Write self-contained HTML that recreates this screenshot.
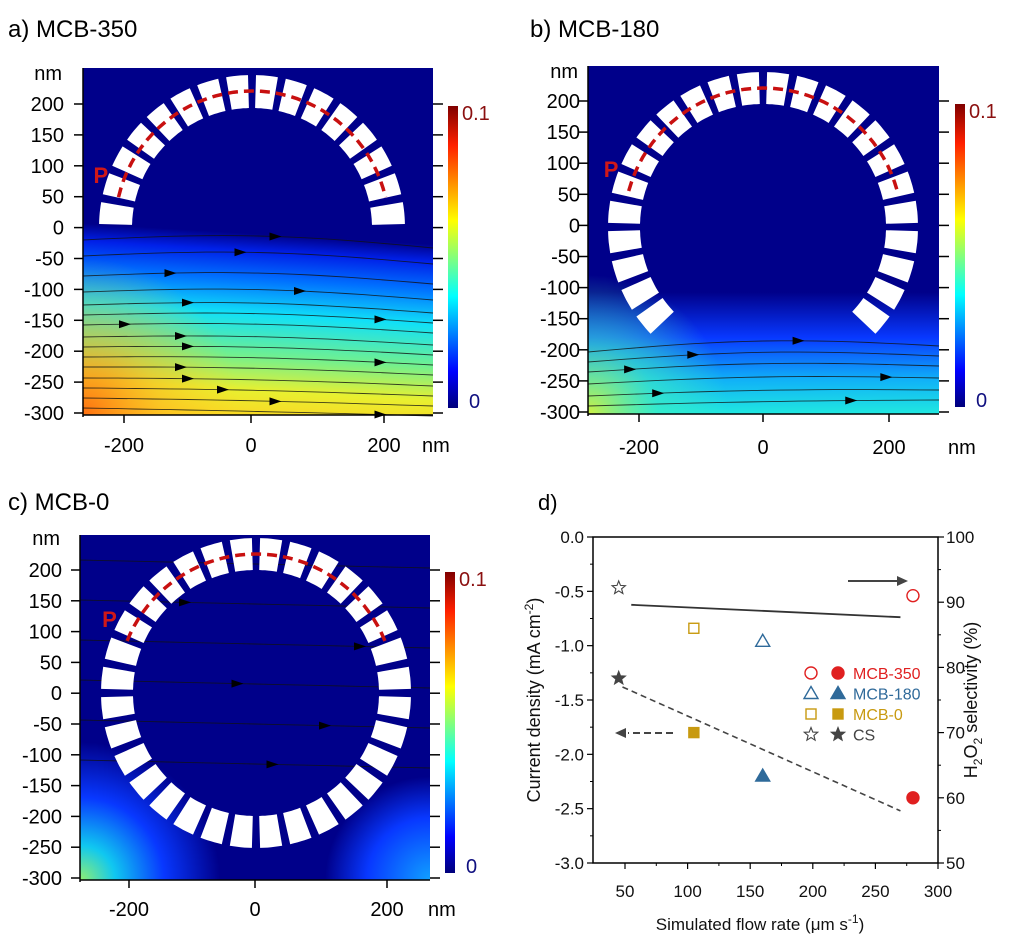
<!DOCTYPE html>
<html><head><meta charset="utf-8"><style>
html,body{margin:0;padding:0;background:#fff;}
svg{display:block;font-family:"Liberation Sans",Arial,sans-serif;}
</style></head><body>
<svg id="root" width="1017" height="943" viewBox="0 0 1017 943" xmlns="http://www.w3.org/2000/svg">
<defs>
<linearGradient id="jet" x1="0" y1="1" x2="0" y2="0">
<stop offset="0" stop-color="#00007a"/><stop offset="0.12" stop-color="#0000ff"/><stop offset="0.37" stop-color="#00ffff"/><stop offset="0.62" stop-color="#ffff00"/><stop offset="0.87" stop-color="#ff2000"/><stop offset="1" stop-color="#800000"/>
</linearGradient>
<linearGradient id="fa" x1="0.06" y1="0" x2="0" y2="1">
<stop offset="0" stop-color="#00008a"/><stop offset="0.45" stop-color="#00008a"/><stop offset="0.5" stop-color="#0020e8"/><stop offset="0.58" stop-color="#0070ff"/><stop offset="0.68" stop-color="#10e0f8"/><stop offset="0.8" stop-color="#70f090"/><stop offset="0.9" stop-color="#e8f030"/><stop offset="1" stop-color="#ffd020"/>
</linearGradient>
<radialGradient id="ra2" cx="0" cy="1" r="0.45">
<stop offset="0" stop-color="#ff7010"/><stop offset="0.5" stop-color="#ffb020" stop-opacity="0.5"/><stop offset="1" stop-color="#ffd020" stop-opacity="0"/>
</radialGradient>
<linearGradient id="fb" x1="0" y1="0" x2="0" y2="1">
<stop offset="0" stop-color="#00008a"/><stop offset="0.65" stop-color="#00008a"/><stop offset="0.78" stop-color="#0838ff"/><stop offset="0.9" stop-color="#10b0f8"/><stop offset="1" stop-color="#20e8e0"/>
</linearGradient>
<radialGradient id="rb" cx="0" cy="1" r="0.4">
<stop offset="0" stop-color="#d0f040"/><stop offset="0.5" stop-color="#40f0c0" stop-opacity="0.6"/><stop offset="1" stop-color="#40f0c0" stop-opacity="0"/>
</radialGradient>
<radialGradient id="rc" cx="0" cy="1" r="0.4">
<stop offset="0" stop-color="#90f070"/><stop offset="0.25" stop-color="#10c8f0"/><stop offset="0.6" stop-color="#0838ff"/><stop offset="1" stop-color="#0838ff" stop-opacity="0"/>
</radialGradient>
<radialGradient id="rc2" cx="1" cy="1" r="0.3">
<stop offset="0" stop-color="#10a0ff"/><stop offset="0.6" stop-color="#0838ff"/><stop offset="1" stop-color="#0838ff" stop-opacity="0"/>
</radialGradient>
</defs>

<text x="8" y="37" font-size="24">a)  MCB-350</text>
<text x="530" y="37" font-size="24">b) MCB-180</text>
<text x="8" y="510" font-size="24">c) MCB-0</text>
<text x="538" y="510" font-size="22">d)</text>

<g>
<rect x="83" y="68" width="350" height="347" fill="url(#fa)"/>
<rect x="83" y="68" width="350" height="347" fill="url(#ra2)"/>
<g id="sa"></g>
<g id="ra"></g>
</g>
<g>
<rect x="588" y="66" width="351" height="348" fill="url(#fb)"/>
<rect x="588" y="66" width="351" height="348" fill="url(#rb)"/>
<g id="sb"></g>
<g id="rbg"></g>
</g>
<g>
<rect x="80" y="535" width="350" height="345" fill="#00008a"/>
<rect x="80" y="535" width="350" height="345" fill="url(#rc)"/>
<rect x="80" y="535" width="350" height="345" fill="url(#rc2)"/>
<g id="sc"></g>
<g id="rcg"></g>
</g>
<g id="axes"></g>
<g id="pd"></g>
</svg>
<script>
// ---- Panel d data ----
const flowRates = [280, 160, 105, 45];
const seriesNames = ["MCB-350", "MCB-180", "MCB-0", "CS"];
const selectivity = [91, 84, 86, 92.2];
const currentDensity = [-2.4, -2.2, -1.8, -1.3];
const xTicks = [50, 100, 150, 200, 250, 300];
const yLeftTicks = ["0.0","-0.5","-1.0","-1.5","-2.0","-2.5","-3.0"];
const yRightTicks = [100, 90, 80, 70, 60, 50];
const solidTrendX = [55, 270];
const solidTrendY = [89.6, 87.7];
const dashTrendX = [48, 270];
const dashTrendY = [-1.38, -2.52];

const NS = "http://www.w3.org/2000/svg";
function mk(tag, attrs, parent){const e=document.createElementNS(NS,tag);for(const k in attrs)e.setAttribute(k,attrs[k]);parent.appendChild(e);return e;}

function ring(g, cx, cy, ro, ri, a0, a1, n, gap){
  const step=(a1-a0)/n;
  for(let i=0;i<n;i++){
    const s=(a0+i*step+gap/2)*Math.PI/180, e=(a0+(i+1)*step-gap/2)*Math.PI/180;
    const pts=[];
    for(let k=0;k<=6;k++){const t=s+(e-s)*k/6;pts.push((cx+ro*Math.cos(t)).toFixed(1)+","+(cy-ro*Math.sin(t)).toFixed(1));}
    for(let k=6;k>=0;k--){const t=s+(e-s)*k/6;pts.push((cx+ri*Math.cos(t)).toFixed(1)+","+(cy-ri*Math.sin(t)).toFixed(1));}
    const p=mk("polygon",{points:pts.join(" "),fill:"#fff"},g);
    
    
  }
}
function arc(g, cx, cy, r, a0, a1){
  const pts=[];
  for(let k=0;k<=40;k++){const t=(a0+(a1-a0)*k/40)*Math.PI/180;pts.push((cx+r*Math.cos(t)).toFixed(1)+","+(cy-r*Math.sin(t)).toFixed(1));}
  const p=mk("polyline",{points:pts.join(" "),fill:"none",stroke:"#c81010","stroke-width":3.5,"stroke-dasharray":"10 6"},g);
  
  
  const t=mk("text",{x:cx+r*Math.cos(a0*Math.PI/180)-25,y:cy-r*Math.sin(a0*Math.PI/180)-14,"font-size":22,"font-weight":"bold",fill:"#d01818"},g);
  t.textContent="P";
  
  
}
const ra=document.getElementById("ra");
ring(ra,252,228,153,120,0,180,16,3); arc(ra,252,228,137,167,13);
const rbg=document.getElementById("rbg");
ring(rbg,763,227,155,123,-45,225,24,3); arc(rbg,763,227,139,165,15);
const rcg=document.getElementById("rcg");
ring(rcg,256,693,155,123,0,360,32,3); arc(rcg,256,693,139,158,22);

function streams(id, x0, x1, ys, amp, slope, arrows){
  const g=document.getElementById(id);
  ys.forEach((y,i)=>{
    let d="";
    for(let k=0;k<=20;k++){const x=x0+(x1-x0)*k/20;const yy=y+slope*(k/20)+amp*Math.sin(Math.PI*k/20)*(1-i/ys.length);d+=(k?"L":"M")+x.toFixed(1)+","+yy.toFixed(1);}
    const p=mk("path",{d:d,fill:"none",stroke:"#111","stroke-width":0.9,opacity:0.8},g);
    
    
    const f=arrows[i%arrows.length];
    const ax=x0+(x1-x0)*f;
    const ay=y+slope*f+amp*Math.sin(Math.PI*f)*(1-i/ys.length);
    const a=mk("polygon",{points:`${ax-6},${ay-4} ${ax+6},${ay} ${ax-6},${ay+4}`,fill:"#000"},g);
    
    
  });
}
streams("sa",83,433,[240,256,276,292,305,315,325,337,347,357,367,378,388,398,408],-8,8,[0.55,0.45,0.25,0.62,0.3,0.85,0.12,0.28,0.3,0.85,0.28,0.3,0.4,0.55,0.85]);
streams("sb",588,939,[352,362,372,384,396,406],-8,-6,[0.6,0.3,0.12,0.85,0.2,0.75]);
streams("sc",80,430,[560,600,640,680,720,760],0,8,[0.55,0.3,0.8,0.45,0.7,0.55]);

const ax=document.getElementById("axes");
function mapAxes(px0,px1,py0,py1,yTop,yBot,xm,x0,xp,cbx,cby0,cby1,ylabRight,nmY,nmX,xlabY){
  mk("line",{x1:px0,y1:py0,x2:px0,y2:py1+2,stroke:"#000","stroke-width":1.5},ax);
  const vals=[200,150,100,50,0,-50,-100,-150,-200,-250,-300];
  vals.forEach((v,i)=>{
    const y=yTop+(yBot-yTop)*i/10;
    mk("line",{x1:px0-9,y1:y,x2:px0,y2:y,stroke:"#000","stroke-width":1.5},ax);
    mk("line",{x1:px1,y1:y,x2:px1+10,y2:y,stroke:"#000","stroke-width":1.5},ax);
    const t=mk("text",{x:ylabRight,y:y+7,"font-size":20,"text-anchor":"end"},ax);t.textContent=v;
    
  });
  mk("line",{x1:px0,y1:py1,x2:px1,y2:py1,stroke:"#000","stroke-width":1.5},ax);
  [[xm,"-200"],[x0,"0"],[xp,"200"]].forEach(([x,l])=>{
    mk("line",{x1:x,y1:py1,x2:x,y2:py1+8,stroke:"#000","stroke-width":1.5},ax);
    const t=mk("text",{x:x,y:xlabY,"font-size":20,"text-anchor":"middle"},ax);t.textContent=l;
    
  });
  let t=mk("text",{x:ylabRight-2,y:nmY,"font-size":20,"text-anchor":"end"},ax);t.textContent="nm";
  
  t=mk("text",{x:nmX,y:xlabY,"font-size":20},ax);t.textContent="nm";
  
  const cb=mk("rect",{x:cbx,y:cby0,width:10,height:cby1-cby0,fill:"url(#jet)"},ax);
  
  t=mk("text",{x:cbx+14,y:cby0+14,"font-size":20,fill:"#8b1010"},ax);t.textContent="0.1";
  
  t=mk("text",{x:cbx+21,y:cby1,"font-size":20,fill:"#101080"},ax);t.textContent="0";
  
}
mapAxes(83,433,68,415,104,413,124,251,384,448,106,408,64,80,422,452);
mapAxes(588,939,66,414,101,412,639,763,889,955,104,407,580,78,948,454);
mapAxes(80,430,535,880,570,878,129,255,387,445,572,873,62,545,428,916);

// ---- Panel d ----
const pd=document.getElementById("pd");
const L=593,R=938,T=537,B=863;
const xS=v=>625+(v-50)*(938-625)/250;
const yL=v=>T+(0-v)/3*(B-T);
const yR=v=>T+(100-v)/50*(B-T);
mk("rect",{x:L,y:T,width:R-L,height:B-T,fill:"none",stroke:"#000","stroke-width":1.5},pd);
xTicks.forEach(v=>{
  mk("line",{x1:xS(v),y1:B,x2:xS(v),y2:B+6,stroke:"#000","stroke-width":1.2},pd);
  if(v<300) mk("line",{x1:xS(v+25),y1:B,x2:xS(v+25),y2:B+3,stroke:"#000","stroke-width":1},pd);
  const t=mk("text",{x:xS(v),y:897,"font-size":17,"text-anchor":"middle",fill:"#111"},pd);t.textContent=v;
  
});
yLeftTicks.forEach(s=>{
  const v=parseFloat(s);
  mk("line",{x1:L-6,y1:yL(v),x2:L,y2:yL(v),stroke:"#000","stroke-width":1.2},pd);
  if(v>-3) mk("line",{x1:L-3,y1:yL(v-0.25),x2:L,y2:yL(v-0.25),stroke:"#000","stroke-width":1},pd);
  const t=mk("text",{x:L-9,y:yL(v)+6,"font-size":17,"text-anchor":"end",fill:"#111"},pd);t.textContent=s;
  
});
yRightTicks.forEach(v=>{
  mk("line",{x1:R,y1:yR(v),x2:R+6,y2:yR(v),stroke:"#000","stroke-width":1.2},pd);
  if(v>50) mk("line",{x1:R,y1:yR(v-5),x2:R+3,y2:yR(v-5),stroke:"#000","stroke-width":1},pd);
  const t=mk("text",{x:R+8,y:yR(v)+6,"font-size":17,fill:"#111"},pd);t.textContent=v;
  
});
let tt=mk("text",{x:760,y:930,"font-size":17,"text-anchor":"middle",fill:"#111"},pd);
tt.innerHTML='Simulated flow rate (μm s<tspan dy="-7" font-size="12">-1</tspan><tspan dy="7">)</tspan>';

tt=mk("text",{x:0,y:0,"font-size":18,"text-anchor":"middle",fill:"#111",transform:"translate(540,700) rotate(-90)"},pd);
tt.innerHTML='Current density (mA cm<tspan dy="-7" font-size="12">-2</tspan><tspan dy="7">)</tspan>';

tt=mk("text",{x:0,y:0,"font-size":18,"text-anchor":"middle",fill:"#111",transform:"translate(977,700) rotate(-90)"},pd);
tt.innerHTML='H<tspan dy="5" font-size="12">2</tspan><tspan dy="-5">O</tspan><tspan dy="5" font-size="12">2</tspan><tspan dy="-5"> selectivity (%)</tspan>';


let ln=mk("line",{x1:xS(solidTrendX[0]),y1:yR(solidTrendY[0]),x2:xS(solidTrendX[1]),y2:yR(solidTrendY[1]),stroke:"#333","stroke-width":1.8},pd);

ln=mk("line",{x1:xS(dashTrendX[0]),y1:yL(dashTrendY[0]),x2:xS(dashTrendX[1]),y2:yL(dashTrendY[1]),stroke:"#444","stroke-width":1.6,"stroke-dasharray":"6 4"},pd);

mk("line",{x1:848,y1:581,x2:898,y2:581,stroke:"#444","stroke-width":2},pd);
mk("polygon",{points:"897,576 908,581 897,586",fill:"#444"},pd);
mk("line",{x1:673,y1:733,x2:628,y2:733,stroke:"#444","stroke-width":2,"stroke-dasharray":"7 4"},pd);
mk("polygon",{points:"626,728 615,733 626,738",fill:"#444"},pd);

const colors=["#e02020","#2f6a9a","#c89a10","#444"];
function marker(kind,x,y,c,filled,g){
  const f=filled?c:"none",sw=1.4;let e;
  if(kind==="MCB-350") e=mk("circle",{cx:x,cy:y,r:6,fill:f,stroke:c,"stroke-width":sw},g);
  else if(kind==="MCB-180") e=mk("polygon",{points:`${x},${y-7} ${x+7},${y+5} ${x-7},${y+5}`,fill:f,stroke:c,"stroke-width":sw},g);
  else if(kind==="MCB-0") e=mk("rect",{x:x-5,y:y-5,width:10,height:10,fill:f,stroke:c,"stroke-width":sw},g);
  else {const p=[];for(let k=0;k<10;k++){const r=k%2?3:7,a=-Math.PI/2+k*Math.PI/5;p.push((x+r*Math.cos(a)).toFixed(1)+","+(y+r*Math.sin(a)).toFixed(1));}
    e=mk("polygon",{points:p.join(" "),fill:f,stroke:c,"stroke-width":1.1},g);}
  return e;
}
flowRates.forEach((fr,i)=>{
  const o=marker(seriesNames[i],xS(fr),yR(selectivity[i]),colors[i],false,pd);
  
  
  const f=marker(seriesNames[i],xS(fr),yL(currentDensity[i]),colors[i],true,pd);
  
  
  const ly=673+i*20.5;
  const lo=marker(seriesNames[i],811,ly,colors[i],false,pd);
  
  
  const lf=marker(seriesNames[i],838,ly,colors[i],true,pd);
  
  
  const t=mk("text",{x:853,y:ly+6,"font-size":16,fill:colors[i]},pd);t.textContent=seriesNames[i];
  
  
});
</script>
</body></html>
